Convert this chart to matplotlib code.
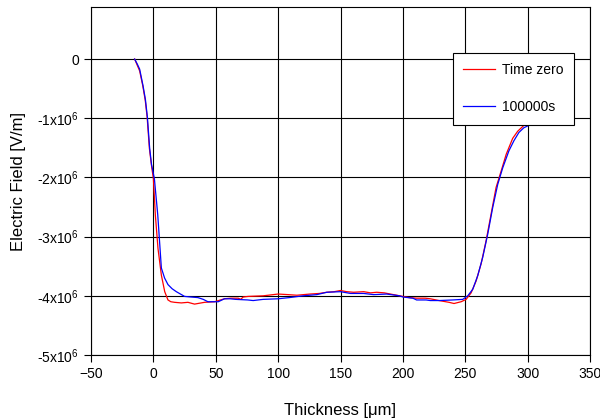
import numpy as np
import matplotlib
matplotlib.use("Agg")
import matplotlib.pyplot as plt

plt.rcParams['font.family'] = ['Liberation Sans', 'DejaVu Sans']
plt.rcParams['mathtext.fontset'] = 'custom'
plt.rcParams['mathtext.rm'] = 'Liberation Sans'

# Time zero (x in um, E in 1e6 V/m)
x_red = [-15, -13, -11, -8.5, -6.5, -5, -3.2, -1.5, 0, 1.6, 3.7, 6.4, 9.1, 11.7, 14, 17, 22.4, 27.7, 33,
         41, 49, 57, 62, 68, 70, 72, 76, 88, 100, 108, 115, 125.6, 133, 139, 145, 150, 155, 160.5, 168.6,
         174, 179, 185, 190, 195, 200, 205, 211, 218, 222, 229, 237, 241, 246.7, 250.7, 254.7, 258.7,
         262.7, 266.7, 270.7, 274.7, 278.8, 282.8, 288, 292, 296, 299, 303, 307, 310]
y_red = [0, -0.1, -0.2, -0.45, -0.7, -0.98, -1.51, -1.8, -2.02, -2.64, -3.2, -3.65, -3.93, -4.07, -4.10,
         -4.11, -4.12, -4.11, -4.14, -4.11, -4.10, -4.05, -4.04, -4.04, -4.06, -4.02, -4.01, -4.0, -3.97,
         -3.98, -3.99, -3.97, -3.96, -3.94, -3.93, -3.91, -3.93, -3.94, -3.93, -3.95, -3.94, -3.95, -3.97,
         -3.99, -4.01, -4.03, -4.04, -4.04, -4.05, -4.08, -4.11, -4.13, -4.10, -4.06, -3.95, -3.75, -3.46,
         -3.07, -2.62, -2.17, -1.89, -1.61, -1.34, -1.22, -1.14, -1.08, -1.06, -1.05, -1.04]

# 100000s
x_blue = [-15, -13, -11, -8.3, -6.4, -4.8, -3, -1.5, 0.8, 3.5, 6.4, 9, 11.7, 15, 18.4, 25, 30, 35.7, 40,
          43.7, 52, 57, 61.5, 66, 75.6, 80, 88, 100, 109, 120, 131, 139, 150, 158, 168.6, 176.6, 187,
          197.3, 200, 208, 211, 218.6, 222, 229, 240, 248, 252, 256, 260, 264, 268, 272, 276, 280, 285,
          289, 293, 297, 301, 306.7, 310]
y_blue = [0, -0.08, -0.17, -0.45, -0.68, -0.98, -1.5, -1.78, -2.02, -2.63, -3.53, -3.70, -3.81, -3.88,
          -3.93, -4.01, -4.02, -4.03, -4.06, -4.10, -4.10, -4.05, -4.05, -4.06, -4.07, -4.08, -4.06, -4.05,
          -4.03, -4.0, -3.98, -3.94, -3.93, -3.96, -3.96, -3.98, -3.97, -4.0, -4.02, -4.04, -4.07, -4.07,
          -4.08, -4.08, -4.07, -4.06, -4.0, -3.89, -3.66, -3.35, -2.96, -2.51, -2.12, -1.84, -1.55, -1.38,
          -1.24, -1.16, -1.12, -1.10, -1.10]

x_ticks = [-50, 0, 50, 100, 150, 200, 250, 300, 350]
y_ticks = [0, -1, -2, -3, -4, -5]
y_tick_labels = ['0'] + [r'%dx10$\mathregular{^{6}}$' % v for v in y_ticks[1:]]

fig = plt.figure(figsize=(6, 4.19), dpi=100)
ax = fig.add_axes([91 / 600, 1 - 355 / 419, 499 / 600, 348 / 419])

ax.plot(x_red, np.array(y_red) * 1e6, color='red', lw=0.9, label='Time zero', zorder=3)
ax.plot(x_blue, np.array(y_blue) * 1e6, color='blue', lw=0.9, label='100000s', zorder=3)

ax.set_xlim(-50, 350)
ax.set_ylim(-5e6, 0.88e6)
ax.set_xticks(x_ticks)
ax.set_yticks([v * 1e6 for v in y_ticks])
ax.set_yticklabels(y_tick_labels)
ax.grid(True, color='black', lw=0.8)
ax.tick_params(direction='out', length=5, width=0.8, labelsize=10, colors='black')
for s in ax.spines.values():
    s.set_linewidth(0.8)

ax.set_xlabel('Thickness [\u03bcm]', fontsize=12, labelpad=16)
ax.set_ylabel('Electric Field [V/m]', fontsize=12, labelpad=8)

leg = ax.legend(loc='upper left', bbox_to_anchor=(0.725, 0.868), borderaxespad=0, fontsize=10,
                frameon=True, fancybox=False, edgecolor='black', framealpha=1,
                labelspacing=1.65, handlelength=2.3, handletextpad=0.5, borderpad=0.75)
leg.get_frame().set_linewidth(0.8)

fig.savefig('out.png', dpi=100)
